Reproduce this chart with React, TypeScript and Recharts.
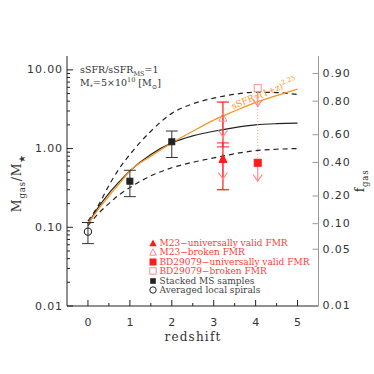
import React from "react";
import {
  ComposedChart,
  ErrorBar,
  Legend,
  Line,
  Scatter,
  XAxis,
  YAxis,
} from "recharts";

// model tracks, gas fraction vs redshift
const curveZ = [0, 0.25, 0.5, 0.75, 1, 1.5, 2, 2.5, 3, 3.5, 4, 4.5, 5];
const modelMid = [0.11, 0.18, 0.27, 0.38, 0.52, 0.84, 1.18, 1.45, 1.66, 1.85, 2.0, 2.07, 2.1];
const modelHigh = [0.12, 0.19, 0.34, 0.56, 0.84, 1.66, 2.8, 3.7, 4.37, 4.9, 5.2, 5.15, 4.86];
const modelLow = [0.105, 0.15, 0.2, 0.26, 0.32, 0.45, 0.57, 0.67, 0.76, 0.86, 0.94, 0.98, 1.0];
const ssfrTrack = [0.11, 0.17, 0.25, 0.36, 0.52, 0.8, 1.18, 1.66, 2.3, 3.0, 3.86, 4.7, 5.7];

// observed points
const stackedZ = [1, 2];
const stackedVal = [0.385, 1.22];
const stackedLo = [0.245, 0.77];
const stackedHi = [0.53, 1.67];

const localZ = 0;
const localVal = 0.088;
const localLo = 0.062;
const localHi = 0.115;

const m23Z = 3.22;
const m23Universal = 0.73;
const m23Broken = 2.45;
const m23RangeLo = 0.3;
const m23RangeHi = 3.9;
const m23InnerMid = 1.11;
const m23InnerLo = 1.05;
const m23InnerHi = 1.18;
const m23UniversalLimit = 0.41;
const m23BrokenLimit = 1.41;

const bdZ = 4.05;
const bdUniversal = 0.66;
const bdBroken = 5.86;
const bdUniversalLimit = 0.385;
const bdBrokenLimit = 3.44;

// axis ticks
const xMajor = [0, 1, 2, 3, 4, 5];
const xMinor = [0.5, 1.5, 2.5, 3.5, 4.5];
const yMajor = [0.01, 0.1, 1, 10];
const yMinor = [
  0.02, 0.03, 0.04, 0.05, 0.06, 0.07, 0.08, 0.09,
  0.2, 0.3, 0.4, 0.5, 0.6, 0.7, 0.8, 0.9,
  2, 3, 4, 5, 6, 7, 8, 9,
];
const fgasTicks = [0.9, 0.8, 0.6, 0.4, 0.2, 0.1, 0.05, 0.01];

const legendLabels = [
  "M23−universally valid FMR",
  "M23−broken FMR",
  "BD29079−universally valid FMR",
  "BD29079−broken FMR",
  "Stacked MS samples",
  "Averaged local spirals",
];
const legendMarkers = ["triFill", "triOpen", "sqFill", "sqOpen", "sqBlack", "circle"];

const RED = "#ff1a1a";
const PINK = "#ff8c8c";
const ORANGE = "#f7941d";
const INK = "#222";

const curveData = curveZ.map((z, i) => ({
  z,
  mid: modelMid[i],
  high: modelHigh[i],
  low: modelLow[i],
  ssfr: ssfrTrack[i],
}));

const stackedData = stackedZ.map((z, i) => ({
  z,
  v: stackedVal[i],
  err: [stackedVal[i] - stackedLo[i], stackedHi[i] - stackedVal[i]],
}));

const localData = [{ z: localZ, v: localVal, err: [localVal - localLo, localHi - localVal] }];
const m23Range = [
  { z: m23Z, v: m23Universal, err: [m23Universal - m23RangeLo, m23RangeHi - m23Universal] },
];
const m23Inner = [
  { z: m23Z, v: m23InnerMid, err: [m23InnerMid - m23InnerLo, m23InnerHi - m23InnerMid] },
];

const arrows = [
  { z: m23Z, from: m23Broken, to: m23BrokenLimit },
  { z: m23Z, from: m23Universal, to: m23UniversalLimit },
  { z: bdZ, from: bdBroken, to: bdBrokenLimit },
  { z: bdZ, from: bdUniversal, to: bdUniversalLimit },
];

const sans = "DejaVu Sans, sans-serif";
const serif = "DejaVu Serif, serif";

const fmt2 = (v: number) => v.toFixed(2);

const LeftTick = (props: any) => {
  const { x, y, payload } = props;
  const major = yMajor.includes(payload.value);
  return (
    <g>
      <line x1={x} y1={y} x2={x + (major ? 6 : 3)} y2={y} stroke={INK} />
      {major && (
        <text x={x - 4} y={y} textAnchor="end" dominantBaseline="central"
          fontFamily={sans} fontSize={11} letterSpacing={0.9} fill="#333">
          {fmt2(payload.value)}
        </text>
      )}
    </g>
  );
};

const RightTick = (props: any) => {
  const { x, y, index } = props;
  return (
    <g>
      <line x1={x} y1={y} x2={x - 6} y2={y} stroke="#999" />
      <text x={x + 4} y={y} textAnchor="start" dominantBaseline="central"
        fontFamily={sans} fontSize={11} letterSpacing={0.9} fill="#333">
        {fmt2(fgasTicks[index])}
      </text>
    </g>
  );
};

const BottomTick = (props: any) => {
  const { x, y, payload } = props;
  const major = xMajor.includes(payload.value);
  return (
    <g>
      <line x1={x} y1={y} x2={x} y2={y - (major ? 6 : 3)} stroke={INK} />
      {major && (
        <text x={x} y={y + 16} textAnchor="middle" dominantBaseline="central"
          fontFamily={sans} fontSize={11} fill="#333">
          {payload.value}
        </text>
      )}
    </g>
  );
};

const TopTick = (props: any) => {
  const { x, y, payload } = props;
  const major = xMajor.includes(payload.value);
  return <line x1={x} y1={y} x2={x} y2={y + (major ? 6 : 3)} stroke="#444" />;
};

const squareShape = (fill: string, stroke: string, s: number) => (p: any) => (
  <rect x={p.cx - s / 2} y={p.cy - s / 2} width={s} height={s} fill={fill} stroke={stroke} strokeWidth={1} />
);
const triShape = (fill: string, stroke: string, s: number) => (p: any) => (
  <polygon
    points={`${p.cx},${p.cy - s * 0.6} ${p.cx - s / 2},${p.cy + s * 0.4} ${p.cx + s / 2},${p.cy + s * 0.4}`}
    fill={fill} stroke={stroke} strokeWidth={1}
  />
);
const circleShape = (p: any) => (
  <circle cx={p.cx} cy={p.cy} r={3.6} fill="none" stroke={INK} strokeWidth={1.1} />
);
const arrowHead = (p: any) => (
  <polyline points={`${p.cx - 4.5},${p.cy - 6.5} ${p.cx},${p.cy} ${p.cx + 4.5},${p.cy - 6.5}`}
    fill="none" stroke={PINK} strokeWidth={1.2} />
);
const nothing = () => <g />;

const LegendMarker = ({ kind }: { kind: string }) => {
  const c = 4;
  let el: React.ReactNode = null;
  if (kind === "triFill") el = <polygon points="4,0.5 0.3,7.3 7.7,7.3" fill={RED} />;
  if (kind === "triOpen") el = <polygon points="4,0.8 0.6,7.2 7.4,7.2" fill="none" stroke={PINK} />;
  if (kind === "sqFill") el = <rect x={0.5} y={0.5} width={7} height={7} fill={RED} />;
  if (kind === "sqOpen") el = <rect x={0.8} y={0.8} width={6.4} height={6.4} fill="none" stroke={PINK} />;
  if (kind === "sqBlack") el = <rect x={1.2} y={1.2} width={5.6} height={5.6} fill={INK} />;
  if (kind === "circle") el = <circle cx={c} cy={c} r={3.2} fill="none" stroke={INK} />;
  return <svg width={8} height={8} style={{ display: "block" }}>{el}</svg>;
};

const LegendBox = () => (
  <div style={{ fontFamily: serif, fontSize: 9, letterSpacing: 0 }}>
    {legendLabels.map((label, i) => (
      <div key={label} style={{ display: "flex", alignItems: "center", height: 9.5, whiteSpace: "nowrap" }}>
        <LegendMarker kind={legendMarkers[i]} />
        <span style={{ marginLeft: 3, color: i < 4 ? "#ff3b3b" : "#444" }}>{label}</span>
      </div>
    ))}
  </div>
);

export default function App() {
  return (
    <div style={{ position: "absolute", left: 0, top: 0, width: 374, height: 374, background: "#fff" }}>
      <ComposedChart
        width={374}
        height={374}
        data={curveData}
        margin={{ top: 56, right: 0, bottom: 0, left: 0 }}
      >
        <XAxis
          dataKey="z"
          type="number"
          domain={[-0.5, 5.5]}
          ticks={[...xMajor, ...xMinor]}
          interval={0}
          height={68}
          tickSize={0}
          tickMargin={0}
          tickLine={false}
          tick={BottomTick}
          axisLine={{ stroke: INK }}
          allowDataOverflow
        />
        <XAxis
          xAxisId="top"
          orientation="top"
          dataKey="z"
          type="number"
          domain={[-0.5, 5.5]}
          ticks={[...xMajor, ...xMinor]}
          interval={0}
          height={0}
          tickSize={0}
          tickMargin={0}
          tickLine={false}
          tick={TopTick}
          axisLine={{ stroke: "#444" }}
          allowDataOverflow
        />
        <YAxis
          type="number"
          scale="log"
          domain={[0.01, 15]}
          ticks={[...yMajor, ...yMinor]}
          interval={0}
          width={67}
          tickSize={0}
          tickMargin={0}
          tickLine={false}
          tick={LeftTick}
          axisLine={{ stroke: INK }}
          allowDataOverflow
        />
        <YAxis
          yAxisId="right"
          orientation="right"
          type="number"
          scale="log"
          domain={[0.01, 15]}
          ticks={fgasTicks.map((f) => f / (1 - f))}
          interval={0}
          width={55.5}
          tickSize={0}
          tickMargin={0}
          tickLine={false}
          tick={RightTick}
          axisLine={{ stroke: "#999" }}
          allowDataOverflow
        />

        <Line dataKey="high" type="monotone" stroke={INK} strokeWidth={1.2} strokeDasharray="5 4" dot={false} isAnimationActive={false} />
        <Line dataKey="low" type="monotone" stroke={INK} strokeWidth={1.2} strokeDasharray="5 4" dot={false} isAnimationActive={false} />
        <Line dataKey="mid" type="monotone" stroke={INK} strokeWidth={1.2} dot={false} isAnimationActive={false} />
        <Line dataKey="ssfr" type="monotone" stroke={ORANGE} strokeWidth={1.3} dot={false} isAnimationActive={false} />

        <Line
          data={[{ z: bdZ, v: bdBroken }, { z: bdZ, v: bdUniversal }]}
          dataKey="v" stroke={PINK} strokeWidth={1} strokeDasharray="1 2"
          dot={false} isAnimationActive={false}
        />
        {arrows.map((a, i) => (
          <Line
            key={"arrow" + i}
            data={[{ z: a.z, v: a.from }, { z: a.z, v: a.to }]}
            dataKey="v" stroke={PINK} strokeWidth={1.2}
            dot={false} isAnimationActive={false}
          />
        ))}
        <Scatter data={arrows.map((a) => ({ z: a.z, v: a.to }))} dataKey="v" shape={arrowHead} isAnimationActive={false} />

        <Scatter data={m23Range} dataKey="v" shape={nothing} isAnimationActive={false}>
          <ErrorBar dataKey="err" direction="y" width={6} stroke={RED} strokeWidth={1.2} />
        </Scatter>
        <Scatter data={m23Inner} dataKey="v" shape={nothing} isAnimationActive={false}>
          <ErrorBar dataKey="err" direction="y" width={6} stroke={RED} strokeWidth={1} />
        </Scatter>
        <Scatter data={stackedData} dataKey="v" shape={squareShape(INK, INK, 6)} isAnimationActive={false}>
          <ErrorBar dataKey="err" direction="y" width={6} stroke="#333" strokeWidth={1} />
        </Scatter>
        <Scatter data={localData} dataKey="v" shape={circleShape} isAnimationActive={false}>
          <ErrorBar dataKey="err" direction="y" width={6} stroke="#333" strokeWidth={1} />
        </Scatter>

        <Scatter data={[{ z: m23Z, v: m23Universal }]} dataKey="v" shape={triShape(RED, RED, 8)} isAnimationActive={false} />
        <Scatter data={[{ z: m23Z, v: m23Broken }]} dataKey="v" shape={triShape("none", PINK, 8)} isAnimationActive={false} />
        <Scatter data={[{ z: bdZ, v: bdUniversal }]} dataKey="v" shape={squareShape(RED, RED, 7)} isAnimationActive={false} />
        <Scatter data={[{ z: bdZ, v: bdBroken }]} dataKey="v" shape={squareShape("#fff", PINK, 7)} isAnimationActive={false} />

        <Legend
          layout="vertical"
          align="center"
          verticalAlign="middle"
          content={LegendBox}
          wrapperStyle={{ left: 148.5, top: 238, width: "auto" }}
        />
      </ComposedChart>

      {/* annotations */}
      <div style={{ position: "absolute", left: 80, top: 63, fontFamily: serif, fontSize: 9.5, color: "#333", lineHeight: "13px", whiteSpace: "nowrap" }}>
        <div>sSFR/sSFR<sub style={{ fontSize: 6.5, lineHeight: 0 }}>MS</sub>=1</div>
        <div>M<sub style={{ fontSize: 6.5, lineHeight: 0 }}>*</sub>=5×10<sup style={{ fontSize: 6.5, lineHeight: 0 }}>10</sup> [M<sub style={{ fontSize: 6.5, lineHeight: 0 }}>⊙</sub>]</div>
      </div>
      <div style={{
        position: "absolute", left: 234, top: 97, fontFamily: serif, fontSize: 9, color: ORANGE,
        whiteSpace: "nowrap", transform: "rotate(-22deg)", transformOrigin: "0 100%", lineHeight: "12px",
      }}>
        sSFR∝(1+z)<sup style={{ fontSize: 6.5 }}>2.25</sup>
      </div>
      <div style={{
        position: "absolute", left: 18, top: 183, fontFamily: serif, fontSize: 12.5, color: "#333",
        whiteSpace: "nowrap", transform: "translate(-50%, -50%) rotate(-90deg)", letterSpacing: 0.8,
      }}>
        M<sub style={{ fontSize: 8.5 }}>gas</sub>/M<sub style={{ fontSize: 9 }}>★</sub>
      </div>
      <div style={{
        position: "absolute", left: 361, top: 181, fontFamily: serif, fontSize: 12.5, color: "#333",
        whiteSpace: "nowrap", transform: "translate(-50%, -50%) rotate(-90deg)", letterSpacing: 0.8,
      }}>
        f<sub style={{ fontSize: 8.5 }}>gas</sub>
      </div>
      <div style={{
        position: "absolute", left: 193, top: 337, fontFamily: serif, fontSize: 12, color: "#333",
        whiteSpace: "nowrap", transform: "translate(-50%, -50%)", letterSpacing: 1.2,
      }}>
        redshift
      </div>
    </div>
  );
}
